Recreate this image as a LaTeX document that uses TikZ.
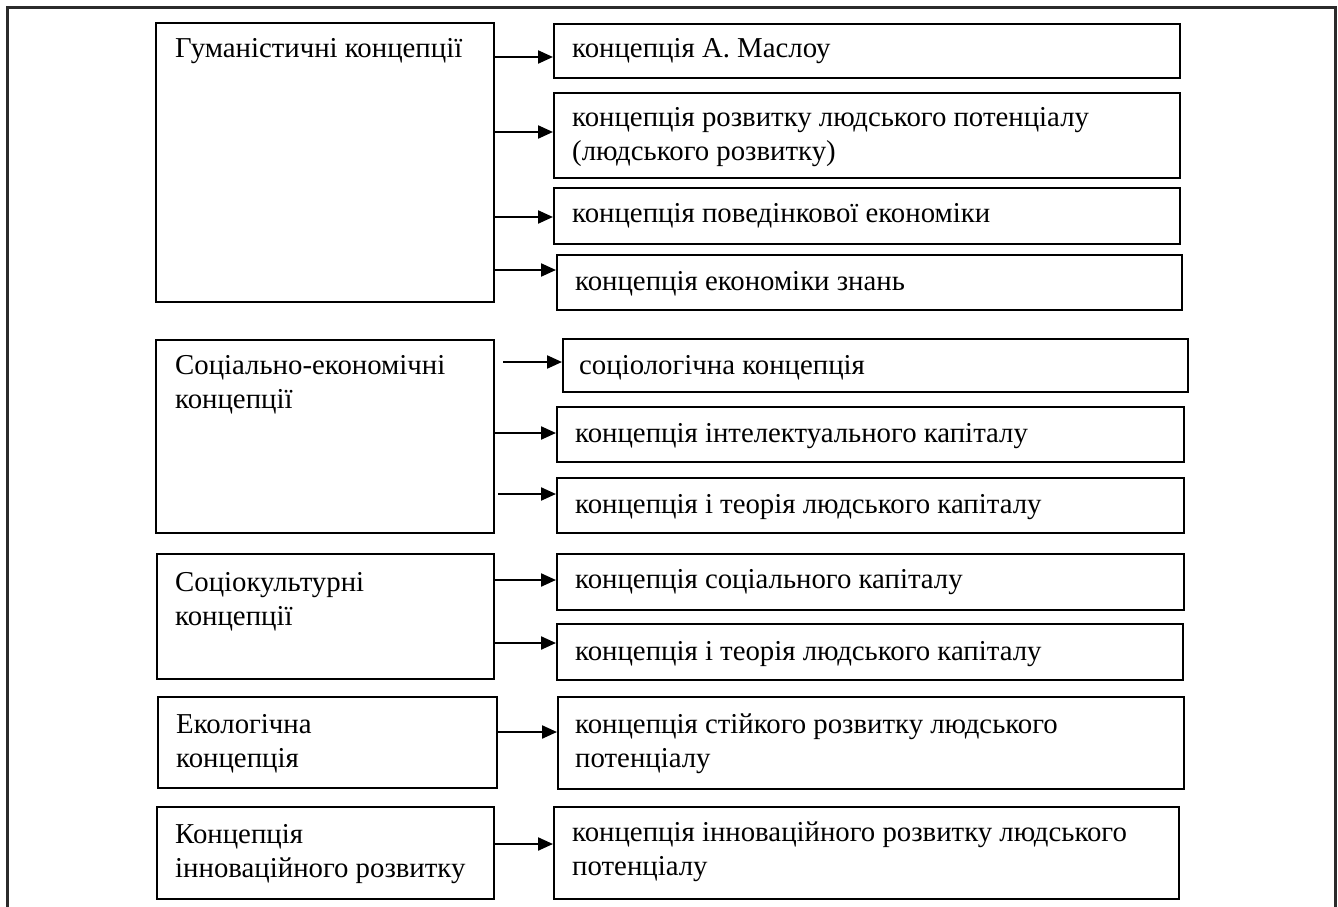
\documentclass[tikz,border=0pt]{standalone}
\usepackage{fontspec}
\setmainfont{Liberation Serif}
\usetikzlibrary{arrows.meta,calc}
\definecolor{framecol}{HTML}{2B2B2B}
\begin{document}
\begin{tikzpicture}[x=1pt,y=-1pt,
  box/.style={draw=black, line width=2pt, anchor=north west, inner sep=0pt},
  txt/.style={anchor=base west, inner sep=0pt, font=\fontsize{28.8}{34}\selectfont},
  arr/.style={line width=2.2pt, -{Triangle[length=15pt,width=13pt]}}]
\useasboundingbox (0,0) rectangle (1338,907);
\draw[line width=3pt, draw=framecol] (7,912) -- (7,8) -- (1335,8) -- (1335,912);

% left boxes
\node[box, minimum width=338pt, minimum height=279pt] (l1) at (155,22) {};
\node[box, minimum width=338pt, minimum height=193pt] (l2) at (155,339) {};
\node[box, minimum width=337pt, minimum height=125pt] (l3) at (156,553) {};
\node[box, minimum width=339pt, minimum height=91pt] (l4) at (157,696) {};
\node[box, minimum width=337pt, minimum height=92pt] (l5) at (156,806) {};

% right boxes
\node[box, minimum width=626pt, minimum height=54pt] (r1) at (553,23) {};
\node[box, minimum width=626pt, minimum height=85pt] (r2) at (553,92) {};
\node[box, minimum width=626pt, minimum height=56pt] (r3) at (553,187) {};
\node[box, minimum width=625pt, minimum height=55pt] (r4) at (556,254) {};
\node[box, minimum width=625pt, minimum height=53pt] (r5) at (562,338) {};
\node[box, minimum width=627pt, minimum height=55pt] (r6) at (556,406) {};
\node[box, minimum width=627pt, minimum height=55pt] (r7) at (556,477) {};
\node[box, minimum width=627pt, minimum height=56pt] (r8) at (556,553) {};
\node[box, minimum width=626pt, minimum height=56pt] (r9) at (556,623) {};
\node[box, minimum width=626pt, minimum height=92pt] (r10) at (557,696) {};
\node[box, minimum width=625pt, minimum height=92pt] (r11) at (553,806) {};

% left texts
\node[txt] (t1) at (175,58) {Гуманістичні концепції};
\node[txt] (t2a) at (175,374) {Соціально-економічні};
\node[txt] (t2b) at (175,408) {концепції};
\node[txt] (t3a) at (175,591) {Соціокультурні};
\node[txt] (t3b) at (175,625) {концепції};
\node[txt] (t4a) at (176,733) {Екологічна};
\node[txt] (t4b) at (176,767) {концепція};
\node[txt] (t5a) at (175,843) {Концепція};
\node[txt] (t5b) at (175,877) {інноваційного розвитку};

% right texts
\node[txt] (s1) at (572,58) {концепція А. Маслоу};
\node[txt] (s2a) at (572,126) {концепція розвитку людського потенціалу};
\node[txt] (s2b) at (572,160) {(людського розвитку)};
\node[txt] (s3) at (572,222) {концепція поведінкової економіки};
\node[txt] (s4) at (575,290) {концепція економіки знань};
\node[txt] (s5) at (579,374) {соціологічна концепція};
\node[txt] (s6) at (575,442) {концепція інтелектуального капіталу};
\node[txt] (s7) at (575,513) {концепція і теорія людського капіталу};
\node[txt] (s8) at (575,588) {концепція соціального капіталу};
\node[txt] (s9) at (575,660) {концепція і теорія людського капіталу};
\node[txt] (s10a) at (575,733) {концепція стійкого розвитку людського};
\node[txt] (s10b) at (575,767) {потенціалу};
\node[txt] (s11a) at (572,841) {концепція інноваційного розвитку людського};
\node[txt] (s11b) at (572,875) {потенціалу};

% connectors
\draw[arr] (l1.east |- 0,57) -- (r1.west |- 0,57);
\draw[arr] (l1.east |- 0,132) -- (r2.west |- 0,132);
\draw[arr] (l1.east |- 0,217) -- (r3.west |- 0,217);
\draw[arr] (l1.east |- 0,270) -- (r4.west |- 0,270);
\draw[arr] ([xshift=8pt]l2.east |- 0,362) -- (r5.west |- 0,362);
\draw[arr] (l2.east |- 0,433) -- (r6.west |- 0,433);
\draw[arr] ([xshift=3pt]l2.east |- 0,494) -- (r7.west |- 0,494);
\draw[arr] (l3.east |- 0,580) -- (r8.west |- 0,580);
\draw[arr] (l3.east |- 0,643) -- (r9.west |- 0,643);
\draw[arr] (l4.east |- 0,732) -- (r10.west |- 0,732);
\draw[arr] (l5.east |- 0,844) -- (r11.west |- 0,844);
\end{tikzpicture}
\end{document}
